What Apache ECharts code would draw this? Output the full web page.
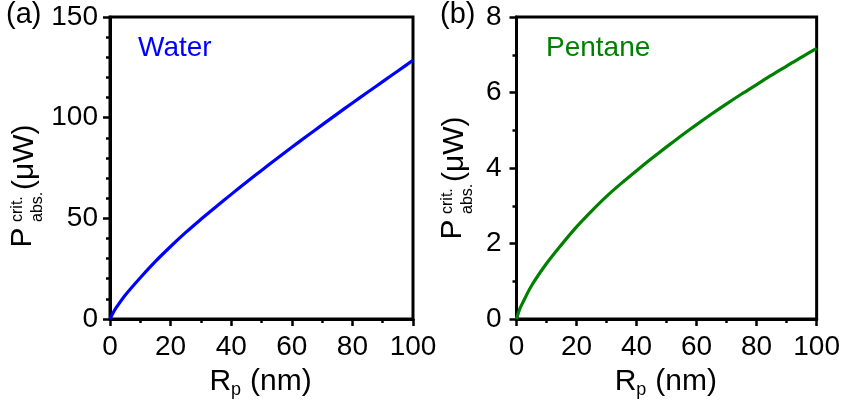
<!DOCTYPE html>
<html>
<head>
<meta charset="utf-8">
<script src="https://cdn.jsdelivr.net/npm/echarts@6/dist/echarts.min.js"></script>
<style>
html,body{margin:0;padding:0;background:#fff;}
#chart{width:843px;height:410px;}
</style>
</head>
<body>
<div id="chart"></div>
<script>
// ---- data ----
var radiusNm = [0, 1, 2, 5, 10, 15, 20, 25, 30, 35, 40, 45, 50, 55, 60, 65, 70, 75, 80, 85, 90, 95, 100];
var waterPower = [0, 3.0, 5.5, 11.8, 20.5, 28.6, 36, 43, 49.5, 55.8, 61.9, 67.9, 73.8, 79.6, 85.3, 90.9, 96.4, 101.9, 107.3, 112.6, 117.9, 123.2, 128.5];
var pentanePower = [0, 0.25, 0.42, 0.88, 1.47, 1.97, 2.44, 2.86, 3.25, 3.60, 3.93, 4.25, 4.56, 4.86, 5.15, 5.43, 5.70, 5.96, 6.21, 6.46, 6.70, 6.94, 7.17];
var xTicks = [0, 20, 40, 60, 80, 100];
var waterYTicks = [0, 50, 100, 150];
var pentaneYTicks = [0, 2, 4, 6, 8];
var panelLabels = ['(a)', '(b)'];
var seriesNames = ['Water', 'Pentane'];

var FONT = '"Liberation Sans", Arial, sans-serif';
var chart = echarts.init(document.getElementById('chart'));

function pairs(xs, ys) { return xs.map(function (x, i) { return [x, ys[i]]; }); }

var grids = [
  { left: 110, top: 17, width: 303, height: 302 },
  { left: 516.5, top: 17, width: 300.5, height: 302 }
];

function xAxisCfg(gi) {
  return {
    type: 'value', gridIndex: gi, min: xTicks[0], max: xTicks[xTicks.length - 1], interval: xTicks[1] - xTicks[0],
    axisLine: { show: true, onZero: false, lineStyle: { color: '#000', width: 3 } },
    axisTick: { show: true, inside: false, length: 7, lineStyle: { color: '#000', width: 2.5 } },
    minorTick: { show: true, splitNumber: 2, length: 4, lineStyle: { color: '#000', width: 2.5 } },
    splitLine: { show: false },
    axisLabel: { color: '#000', fontSize: 28, fontFamily: FONT, margin: 14 }
  };
}
function yAxisCfg(gi, ticks, minorSplit, margin) {
  return {
    type: 'value', gridIndex: gi, min: ticks[0], max: ticks[ticks.length - 1], interval: ticks[1] - ticks[0],
    axisLine: { show: true, onZero: false, lineStyle: { color: '#000', width: 3 } },
    axisTick: { show: true, inside: false, length: 7, lineStyle: { color: '#000', width: 2.5 } },
    minorTick: { show: true, splitNumber: minorSplit, length: 4, lineStyle: { color: '#000', width: 2.5 } },
    splitLine: { show: false },
    axisLabel: { color: '#000', fontSize: 28, fontFamily: FONT, margin: margin }
  };
}

function txt(text, x, y, size, color, extra) {
  var s = { text: text, fontSize: size, fontFamily: FONT, fill: color || '#000', align: 'left', verticalAlign: 'middle' };
  var el = { type: 'text', x: x, y: y, silent: true, style: s };
  if (extra) for (var k in extra) el[k] = extra[k];
  return el;
}

function xName(g) {
  var cx = g.left + g.width / 2;
  return [
    txt('R', cx - 52, 382, 30),
    txt('p', cx - 30.5, 390, 18),
    txt('(nm)', cx - 11.5, 382, 30)
  ];
}
function yName(px, py) {
  return {
    type: 'group', x: px, y: py, rotation: Math.PI / 2, silent: true,
    children: [
      txt('P', -1.5, 0, 30),
      txt('crit.', 24, -5, 16),
      txt('abs.', 24, 15, 16),
      txt('(μW)', 56, 2, 30)
    ]
  };
}

var graphics = []
  .concat(xName(grids[0]), xName(grids[1]))
  .concat([
    yName(22.3, 246),
    yName(452.5, 238),
    txt(panelLabels[0], 6, 15, 29),
    txt(panelLabels[1], 440, 15, 29),
    txt(seriesNames[0], 138, 48, 28, '#0000ff'),
    txt(seriesNames[1], 546, 48, 28, '#008000')
  ]);

chart.setOption({
  animation: false,
  backgroundColor: '#fff',
  grid: grids.map(function (g) {
    return { left: g.left, top: g.top, width: g.width, height: g.height, show: true, borderColor: '#000', borderWidth: 3, containLabel: false };
  }),
  xAxis: [xAxisCfg(0), xAxisCfg(1)],
  yAxis: [yAxisCfg(0, waterYTicks, 5, 12), yAxisCfg(1, pentaneYTicks, 2, 15)],
  series: [
    { type: 'line', name: seriesNames[0], xAxisIndex: 0, yAxisIndex: 0, data: pairs(radiusNm, waterPower), smooth: 0.3, showSymbol: false, lineStyle: { color: '#0000ff', width: 3.2 } },
    { type: 'line', name: seriesNames[1], xAxisIndex: 1, yAxisIndex: 1, data: pairs(radiusNm, pentanePower), smooth: 0.3, showSymbol: false, lineStyle: { color: '#008000', width: 3.2 } }
  ],
  graphic: graphics
});
</script>
</body>
</html>
